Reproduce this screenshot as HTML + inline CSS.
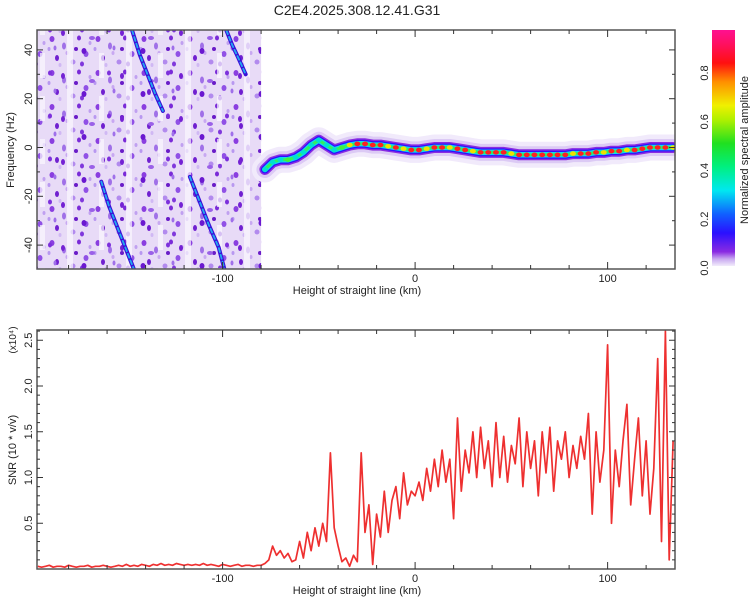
<!DOCTYPE html>
<html><head><meta charset="utf-8"><style>
body{margin:0;background:#fff;}
svg text{font-family:"Liberation Sans",sans-serif;fill:#222;}
</style></head><body>
<svg id="s" width="750" height="600" viewBox="0 0 750 600" xmlns="http://www.w3.org/2000/svg">
<defs>
<linearGradient id="cb" x1="0" y1="1" x2="0" y2="0">
<stop offset="0" stop-color="#f2ecfb"/><stop offset="0.03" stop-color="#c8a8f0"/><stop offset="0.06" stop-color="#8a2be2"/>
<stop offset="0.14" stop-color="#2a10ff"/><stop offset="0.22" stop-color="#1060ff"/><stop offset="0.32" stop-color="#00e8f0"/>
<stop offset="0.42" stop-color="#00f080"/><stop offset="0.52" stop-color="#20e020"/><stop offset="0.62" stop-color="#b0f000"/>
<stop offset="0.68" stop-color="#f0f000"/><stop offset="0.78" stop-color="#ff9000"/><stop offset="0.86" stop-color="#ff1010"/>
<stop offset="0.94" stop-color="#ff1060"/><stop offset="1" stop-color="#ff1090"/>
</linearGradient>
<pattern id="noise" width="46" height="34" patternUnits="userSpaceOnUse">
<rect width="46" height="34" fill="#e8dbf7"/>
<ellipse cx="6" cy="5" rx="2.5" ry="3" fill="#8a3ee0"/><ellipse cx="18" cy="12" rx="2" ry="3.5" fill="#a070e8"/>
<ellipse cx="33" cy="4" rx="2" ry="2.5" fill="#7a2bd8"/><ellipse cx="40" cy="20" rx="2.5" ry="3" fill="#9050e6"/>
<ellipse cx="11" cy="24" rx="2" ry="3" fill="#7020d0"/><ellipse cx="27" cy="28" rx="2.5" ry="2.5" fill="#b28aee"/>
<ellipse cx="21" cy="19" rx="1.5" ry="2" fill="#c8a8f2"/><ellipse cx="44" cy="9" rx="1.5" ry="2" fill="#c0a0f0"/>
<ellipse cx="3" cy="15" rx="1.5" ry="2" fill="#b898f0"/><ellipse cx="36" cy="30" rx="2" ry="2.5" fill="#8038dc"/>
<ellipse cx="14" cy="31" rx="1.5" ry="2" fill="#d0b8f4"/><ellipse cx="30" cy="15" rx="2" ry="2" fill="#6a1cc8"/>
</pattern>
<pattern id="noise2" width="59" height="43" patternUnits="userSpaceOnUse">
<rect x="8" y="0" width="6" height="43" fill="#fbf8fe" opacity="0.7"/>
<rect x="40" y="10" width="5" height="25" fill="#fbf8fe" opacity="0.7"/>
<ellipse cx="25" cy="8" rx="2.5" ry="3" fill="#6a18d0"/><ellipse cx="50" cy="30" rx="2" ry="2.5" fill="#7d30dc"/>
<ellipse cx="33" cy="38" rx="3" ry="2" fill="#9a60e8"/><ellipse cx="4" cy="33" rx="2" ry="3" fill="#7422d4"/>
<ellipse cx="55" cy="5" rx="1.5" ry="2.5" fill="#a070ea"/>
</pattern>
<clipPath id="clipTop"><rect x="37" y="30" width="638" height="239"/></clipPath>
<clipPath id="clipBot"><rect x="37" y="330" width="638" height="239"/></clipPath>
</defs>
<text x="357" y="15" font-size="14" text-anchor="middle">C2E4.2025.308.12.41.G31</text>
<g id="topPlot" clip-path="url(#clipTop)"></g>
<g id="botPlot" clip-path="url(#clipBot)"></g>
<g id="axes"></g>
<rect x="712" y="30" width="23" height="236" fill="url(#cb)"/>
<text transform="translate(748,150) rotate(-90)" font-size="11" text-anchor="middle">Normalized spectral amplitude</text>
</svg>
<script>
// ---- data ----
const snrStartKm = -196;
const snrStepKm = 2;
const snrValues = [
0.03,0.02,0.03,0.04,0.02,0.03,0.03,0.02,0.04,0.03,
0.02,0.03,0.03,0.04,0.02,0.03,0.03,0.04,0.03,0.02,
0.03,0.04,0.03,0.05,0.03,0.04,0.03,0.05,0.04,0.03,
0.05,0.04,0.06,0.04,0.05,0.04,0.06,0.05,0.04,0.05,
0.04,0.05,0.04,0.06,0.04,0.05,0.04,0.03,0.05,0.04,
0.03,0.04,0.05,0.03,0.04,0.04,0.03,0.04,0.04,
0.06,0.1,0.25,0.15,0.2,0.12,0.17,0.08,0.1,0.3,0.12,0.4,0.2,0.45,0.25,0.5,0.3,1.27,0.45,0.25,
0.08,0.12,0.03,0.15,0.08,1.27,0.4,0.7,0.05,0.6,0.35,0.85,0.4,0.75,0.9,0.55,1.05,0.7,0.85,0.8,
0.95,0.75,1.1,0.85,1.2,0.9,1.3,0.95,1.2,0.55,1.65,0.85,1.3,1.05,1.5,1.0,1.55,1.1,1.4,0.9,
1.6,1.0,1.45,0.95,1.35,1.15,1.65,0.9,1.5,1.1,1.4,0.8,1.5,1.05,1.55,0.85,1.4,1.2,1.5,1.0,
1.35,1.1,1.45,1.2,1.7,0.6,1.5,0.95,1.3,2.45,0.5,1.3,0.9,1.4,1.8,0.7,1.2,1.65,0.8,1.4,
0.6,1.1,2.3,0.3,2.6,0.1,1.4];
const traceKm =   [-78,-74,-70,-66,-62,-58,-54,-50,-46,-42,-38,-34,-30,-26,-22,-18,-14,-10,-6,-2,2,6,10,14,18,22,26,30,34,38,42,46,50,54,58,62,66,70,74,78,82,86,90,94,98,102,106,110,114,118,122,126,130,134];
const traceHz =   [-9,-6,-5,-5,-4,-2,1,3,1,-1,0,1,1.5,1.5,1,1,0.5,0,-0.5,-1,-1,-0.5,0,0,0,-0.5,-1,-1.5,-2,-2,-2,-2,-2.5,-3,-3,-3,-3,-3,-3,-3,-2.5,-2.5,-2.5,-2,-2,-1.5,-1.5,-1,-1,-0.5,0,0,0,0];
const traceAmp =  [0.4,0.5,0.5,0.55,0.45,0.5,0.45,0.5,0.4,0.5,0.55,0.7,0.85,0.9,0.85,0.8,0.7,0.85,0.75,0.8,0.85,0.75,0.85,0.8,0.75,0.85,0.8,0.7,0.85,0.8,0.85,0.9,0.75,0.85,0.9,0.85,0.85,0.8,0.9,0.85,0.75,0.85,0.8,0.85,0.7,0.8,0.85,0.75,0.85,0.8,0.85,0.8,0.85,0.7];
const streakAKm = [-147,-143,-139,-135,-131]; const streakAHz = [48,38,30,22,15];
const streakBKm = [-98,-95,-92,-88];         const streakBHz = [48,42,37,30];
const streakCKm = [-163,-159,-155,-151,-146]; const streakCHz = [-14,-24,-32,-40,-50];
const streakDKm = [-117,-112,-107,-102,-99];  const streakDHz = [-12,-22,-32,-41,-50];
const xTicks = [-100,0,100];
const freqTicks = [-40,-20,0,20,40];
const snrTicks = [0.5,1.0,1.5,2.0,2.5];
const cbTicks = [0.0,0.2,0.4,0.6,0.8];

// ---- scales ----
const X0=37,X1=675;
const kmMin=-196.4, kmMax=135;
const xs = k => X0 + (k-kmMin)/(kmMax-kmMin)*(X1-X0);
const fy = h => 147.5 - h*2.44;
const sy = v => 569 - v*91.5;
const cy = v => 268 - v*243.75;
const NS="http://www.w3.org/2000/svg";
function mk(tag, attrs, parent){const e=document.createElementNS(NS,tag);for(const k in attrs)e.setAttribute(k,attrs[k]);parent.appendChild(e);return e;}
const topG=document.getElementById('topPlot'), botG=document.getElementById('botPlot'), axG=document.getElementById('axes'), svgRoot=document.getElementById('s');

// noise region
const nz=mk('rect',{x:X0,y:30,width:xs(-80)-X0,height:239,fill:'url(#noise)'},topG);


const nz2=mk('rect',{x:X0,y:30,width:xs(-80)-X0,height:239,fill:'url(#noise2)'},topG);



function ampColor(a){ if(a>=0.8) return '#ff2020'; if(a>=0.7) return '#f0e000'; if(a>=0.55) return '#40f040'; return '#00e0d0'; }
function pts(ks,hs){return ks.map((k,i)=>xs(k).toFixed(1)+','+fy(hs[i]).toFixed(1)).join(' ');}

// streaks
[[streakAKm,streakAHz],[streakBKm,streakBHz],[streakCKm,streakCHz],[streakDKm,streakDHz]].forEach((s,j)=>{
  const p=pts(s[0],s[1]);
  const l1=mk('polyline',{points:p,fill:'none',stroke:'#3a10d8',"stroke-width":4,"stroke-linecap":"round"},topG);
  
  
  mk('polyline',{points:p,fill:'none',stroke:'#20a8f0',"stroke-width":1.8,"stroke-linecap":"round","stroke-dasharray":"4 3"},topG);
});

// trace band
const tp=pts(traceKm,traceHz);
const bands=[['#f1eafb',26],['#dccaf5',17],['#8a2be2',11],['#2a10ff',8],['#10d8f0',5.5],['#30f060',3]];
bands.forEach((b,j)=>{
  const l=mk('polyline',{points:tp,fill:'none',stroke:b[0],"stroke-width":b[1],"stroke-linejoin":"round","stroke-linecap":"round"},topG);
  
  
});
traceKm.forEach((k,i)=>{
  const c=mk('ellipse',{cx:xs(k),cy:fy(traceHz[i]),rx:3,ry:2.3,fill:ampColor(traceAmp[i])},topG);
  
  
});

// SNR line
const sp=snrValues.map((v,i)=>xs(snrStartKm+i*snrStepKm).toFixed(1)+','+sy(v).toFixed(1)).join(' ');
const sl=mk('polyline',{points:sp,fill:'none',stroke:'#ee3030',"stroke-width":1.7,"stroke-linejoin":"round"},botG);



// axes frames
[[30,'top-frame'],[330,'bottom-frame']].forEach(f=>{
  const r=mk('rect',{x:X0,y:f[0],width:X1-X0,height:239,fill:'none',stroke:'#555',"stroke-width":1.5},axG);
  
  
});
function tickLine(x1,y1,x2,y2){mk('line',{x1:x1,y1:y1,x2:x2,y2:y2,stroke:'#333',"stroke-width":1},axG);}
[[30,269],[330,569]].forEach(([t,b])=>{
  for(let k=-180;k<=120;k+=20){const x=xs(k);const L=(k%100===0)?7:4;tickLine(x,t,x,t+L);tickLine(x,b,x,b-L);}
  xTicks.forEach(k=>{const tx=mk('text',{x:xs(k),y:b+13,"font-size":11,"text-anchor":"middle"},axG);tx.textContent=k;
    
    });
  const xl=mk('text',{x:357,y:b+25,"font-size":11,"text-anchor":"middle"},axG);xl.textContent='Height of straight line (km)';
  
  
});
for(let h=-40;h<=40;h+=10){const y=fy(h);const L=(h%20===0)?6:3;tickLine(X0,y,X0+L,y);tickLine(X1,y,X1-L,y);}
freqTicks.forEach(h=>{const t=mk('text',{transform:`translate(${X0-5},${fy(h)}) rotate(-90)`,"font-size":11,"text-anchor":"middle"},axG);t.textContent=h;
  
  });
const fl=mk('text',{transform:'translate(14,150) rotate(-90)',"font-size":11,"text-anchor":"middle"},axG);fl.textContent='Frequency (Hz)';


for(let v=1;v<=26;v++){const y=sy(v/10);const L=(v%5===0)?6:3;tickLine(X0,y,X0+L,y);tickLine(X1,y,X1-L,y);}
snrTicks.forEach(v=>{const t=mk('text',{transform:`translate(${X0-5},${sy(v)}) rotate(-90)`,"font-size":11,"text-anchor":"middle"},axG);t.textContent=v.toFixed(1);
  
  });
const sl2=mk('text',{transform:'translate(16,450) rotate(-90)',"font-size":11,"text-anchor":"middle"},axG);sl2.textContent='SNR (10 * v/v)';


const ex=mk('text',{transform:'translate(16,340) rotate(-90)',"font-size":10,"text-anchor":"middle"},axG);ex.textContent='(x10⁴)';


cbTicks.forEach(v=>{const t=mk('text',{transform:`translate(708,${cy(v)}) rotate(-90)`,"font-size":11,"text-anchor":"middle"},svgRoot);t.textContent=v.toFixed(1);
  
  });
</script>
</body></html>
